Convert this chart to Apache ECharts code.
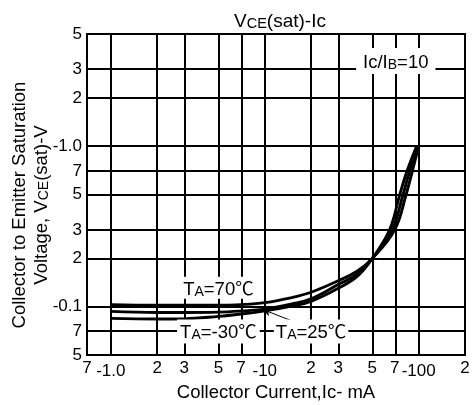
<!DOCTYPE html>
<html><head><meta charset="utf-8">
<script src="https://cdn.jsdelivr.net/npm/echarts@6/dist/echarts.min.js"></script>
<style>html,body{margin:0;padding:0;background:#fff}#c{width:472px;height:405px}</style>
</head><body><div id="c"></div>
<script>
// ---- axis ticks ----
const xDigitValues = [0.7, 2, 3, 5, 7, 20, 30, 50, 70, 200];
const xDigitLabels = ['7', '2', '3', '5', '7', '2', '3', '5', '7', '2'];
const xDecadeValues = [1, 10, 100];
const xDecadeLabels = ['-1.0', '-10', '-100'];
const xGridValues = [1, 2, 3, 5, 7, 10, 20, 30, 50, 70, 100];
const yTickValues = [0.05, 0.07, 0.1, 0.2, 0.3, 0.5, 0.7, 1, 2, 3, 5];
const yTickLabels = ['5', '7', '-0.1', '2', '3', '5', '7', '-1.0', '2', '3', '5'];
const yGridValues = [0.07, 0.1, 0.2, 0.3, 0.5, 0.7, 1, 2, 3];

// ---- series (Ic in mA, VCE(sat) in V) ----
const icTa70 = [1, 2, 3, 5, 7, 10, 15, 20, 30, 40, 50, 69.7, 82.9, 91, 100];
const vceTa70 = [0.103, 0.102, 0.102, 0.102, 0.103, 0.106, 0.114, 0.123, 0.145, 0.167, 0.20, 0.3, 0.5, 0.7, 1.0];
const icTa25 = [1, 2, 3, 5, 7, 10, 15, 20, 30, 40, 50, 67.1, 79.2, 87.4, 99];
const vceTa25 = [0.0935, 0.092, 0.092, 0.0925, 0.094, 0.0965, 0.104, 0.112, 0.1375, 0.160, 0.20, 0.3, 0.5, 0.7, 1.0];
const icTaM30 = [1, 2, 3, 5, 7, 10, 15, 20, 30, 40, 50, 64.6, 75.4, 84, 97];
const vceTaM30 = [0.0845, 0.0838, 0.084, 0.087, 0.09, 0.0942, 0.101, 0.108, 0.130, 0.155, 0.20, 0.3, 0.5, 0.7, 1.0];

const L = Math.log10;
const FONT = '"Liberation Sans", Arial, "Noto Sans CJK SC", sans-serif';
const T = 17;          // tick label size
const N = 18.5, S = 14; // text / small-cap size
const rich = {
  n: { fontSize: N, fontFamily: FONT, fontWeight: 'normal', color: '#000', verticalAlign: 'bottom', lineHeight: 22 },
  s: { fontSize: S, fontFamily: FONT, fontWeight: 'normal', color: '#000', verticalAlign: 'bottom', lineHeight: 22 }
};
const richTitle = {
  n: { fontSize: 19, fontFamily: FONT, fontWeight: 'normal', color: '#000', verticalAlign: 'bottom', lineHeight: 22 },
  s: { fontSize: 14.5, fontFamily: FONT, fontWeight: 'normal', color: '#000', verticalAlign: 'bottom', lineHeight: 22 }
};
function pairs(xs, ys) { return xs.map((x, i) => [L(x), L(ys[i])]); }
function labelFor(vals, labs) {
  return v => { for (let i = 0; i < vals.length; i++) if (Math.abs(L(vals[i]) - v) < 1e-6) return labs[i]; return ''; };
}
const xMin = L(0.7), xMax = L(200), yMin = L(0.05), yMax = L(5);
const curveStyle = { type: 'line', smooth: 0.4, symbol: 'none', silent: true, z: 3,
  lineStyle: { color: '#000', width: 2.9 } };

const chart = echarts.init(document.getElementById('c'), null, { renderer: 'canvas' });
chart.setOption({
  animation: false,
  backgroundColor: '#fff',
  title: {
    text: '{n|V}{s|CE}{n|(sat)-Ic}', left: 275, top: 4, textAlign: 'center',
    textStyle: { fontWeight: 'normal', rich: richTitle }
  },
  grid: { left: 87, right: 7, top: 34, bottom: 50, outerBoundsMode: 'none', containLabel: false,
    show: true, borderColor: '#000', borderWidth: 2, backgroundColor: 'transparent' },
  xAxis: [
    { type: 'value', min: xMin, max: xMax, splitLine: { show: false }, axisLine: { show: false }, axisTick: { show: false },
      axisLabel: { customValues: xDigitValues.map(L), formatter: labelFor(xDigitValues, xDigitLabels), margin: 5,
        fontSize: T, fontFamily: FONT, color: '#000' },
      name: 'Collector Current,Ic- mA', nameLocation: 'middle', nameGap: 29,
      nameTextStyle: { fontSize: N, fontFamily: FONT, color: '#000' } },
    { type: 'value', min: xMin, max: xMax, position: 'bottom', splitLine: { show: false }, axisLine: { show: false }, axisTick: { show: false },
      axisLabel: { customValues: xDecadeValues.map(L), formatter: labelFor(xDecadeValues, xDecadeLabels), margin: 8,
        fontSize: T, fontFamily: FONT, color: '#000' } }
  ],
  yAxis: {
    type: 'value', min: yMin, max: yMax, splitLine: { show: false }, axisLine: { show: false }, axisTick: { show: false },
    axisLabel: { customValues: yTickValues.map(L), formatter: labelFor(yTickValues, yTickLabels), margin: 5,
      fontSize: T, fontFamily: FONT, color: '#000' }
  },
  graphic: [
    { type: 'text', x: 18, y: 205, rotation: Math.PI / 2, silent: true,
      style: { text: '{n|Collector to Emitter Saturation}', rich: rich, align: 'center', verticalAlign: 'middle' } },
    { type: 'text', x: 40, y: 205, rotation: Math.PI / 2, silent: true,
      style: { text: '{n|Voltage, V}{s|CE}{n|(sat)-V}', rich: rich, align: 'center', verticalAlign: 'middle' } }
  ],
  series: [
    { type: 'line', data: [], silent: true, z: 1,
      markLine: { silent: true, symbol: ['none', 'none'], label: { show: false }, animation: false,
        lineStyle: { color: '#000', width: 2, type: 'solid' },
        emphasis: { disabled: true },
        data: xGridValues.map(v => ({ xAxis: L(v) })).concat(yGridValues.map(v => ({ yAxis: L(v) }))) } },
    Object.assign({ name: 'TA=70℃', data: pairs(icTa70, vceTa70) }, curveStyle),
    Object.assign({ name: 'TA=25℃', data: pairs(icTa25, vceTa25) }, curveStyle),
    Object.assign({ name: 'TA=-30℃', data: pairs(icTaM30, vceTaM30) }, curveStyle),
    { type: 'line', data: [], silent: true, z: 6,
      markLine: { silent: true, symbol: ['arrow', 'none'], symbolSize: [6, 9], label: { show: false }, animation: false,
        lineStyle: { color: '#000', width: 1, type: 'solid' }, emphasis: { disabled: true },
        data: [[{ coord: [L(9.6), L(0.0965)] }, { coord: [L(16), L(0.0796)] }]] },
      markPoint: { silent: true, symbol: 'circle', symbolSize: 0, animation: false,
        label: { show: true, position: 'inside', backgroundColor: '#fff', rich: rich },
        data: [
          { coord: [L(71), L(3.4)], label: { formatter: '{n|Ic/I}{s|B}{n|=10}', padding: [2, 7, 2, 7] } },
          { coord: [L(5), L(0.131)], label: { formatter: '{n|T}{s|A}{n|=70℃}', padding: [0, 2, 0, 2] } },
          { coord: [L(5), L(0.07)], label: { formatter: '{n|T}{s|A}{n|=-30℃}', padding: [1, 3, 1, 3] } },
          { coord: [L(20), L(0.07)], label: { formatter: '{n|T}{s|A}{n|=25℃}', padding: [1, 2, 1, 2] } }
        ] } }
  ]
});
</script></body></html>
